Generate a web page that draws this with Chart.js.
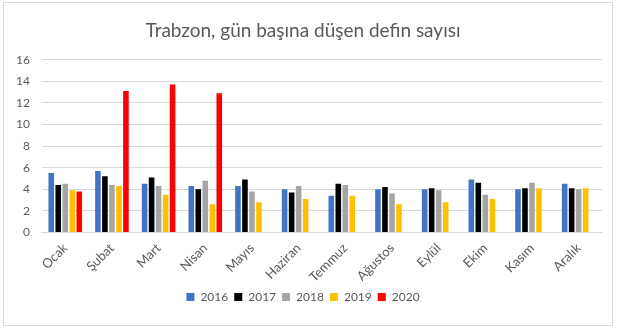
<!DOCTYPE html>
<html>
<head>
<meta charset="utf-8">
<script src="https://cdn.jsdelivr.net/npm/chart.js@4"></script>
<style>
  body { margin: 0; background: #fff; }
  #wrap { position: absolute; left: 3px; top: 2px; width: 610px; height: 324px; border: 1px solid #d9d9d9; box-sizing: border-box; }
</style>
</head>
<body>
<div id="wrap"><canvas id="chart"></canvas></div>
<script>
const months = ["Ocak", "Şubat", "Mart", "Nisan", "Mayıs", "Haziran", "Temmuz", "Ağustos", "Eylül", "Ekim", "Kasım", "Aralık"];
const years = ["2016", "2017", "2018", "2019", "2020"];
const colors = ["#4472c4", "#000000", "#a5a5a5", "#ffc000", "#ff0000"];
const v2016 = [5.5, 5.7, 4.5, 4.3, 4.3, 4.0, 3.4, 4.0, 4.0, 4.9, 4.0, 4.5];
const v2017 = [4.4, 5.2, 5.1, 4.0, 4.9, 3.7, 4.5, 4.2, 4.1, 4.6, 4.1, 4.1];
const v2018 = [4.5, 4.4, 4.3, 4.8, 3.8, 4.3, 4.4, 3.6, 3.9, 3.5, 4.6, 4.0];
const v2019 = [3.9, 4.3, 3.5, 2.6, 2.8, 3.1, 3.4, 2.6, 2.8, 3.1, 4.1, 4.1];
const v2020 = [3.8, 13.1, 13.7, 12.9, null, null, null, null, null, null, null, null];
const series = [v2016, v2017, v2018, v2019, v2020];
const yTicks = [0, 2, 4, 6, 8, 10, 12, 14, 16];

const txt = "#595959";
const font = "Lato, 'Open Sans', sans-serif";

const datasets = series.map((vals, i) => ({
    label: years[i],
    data: vals,
    backgroundColor: colors[i],
    borderWidth: 0,
    categoryPercentage: 0.75,
    barPercentage: 0.8
}));

new Chart(document.getElementById("chart").getContext("2d"), {
    type: "bar",
    data: { labels: months, datasets: datasets },
    options: {
        responsive: true,
        maintainAspectRatio: false,
        animation: false,
        layout: { padding: { left: 0, right: 10, top: 6, bottom: 12 } },
        plugins: {
            title: {
                display: true,
                text: "Trabzon, gün başına düşen defin sayısı",
                color: txt,
                font: { family: font, size: 19, weight: "normal" },
                padding: { top: 10, bottom: 18 }
            },
            legend: {
                position: "bottom",
                labels: {
                    color: txt,
                    boxWidth: 8,
                    boxHeight: 8,
                    padding: 6,
                    font: { family: font, size: 12 }
                }
            },
            tooltip: { enabled: false }
        },
        scales: {
            x: {
                grid: { display: false },
                border: { color: "#d9d9d9" },
                ticks: { color: txt, maxRotation: 45, minRotation: 45, padding: 0, font: { family: font, size: 13 } }
            },
            y: {
                min: 0,
                max: 16,
                afterBuildTicks: axis => { axis.ticks = yTicks.map(v => ({ value: v })); },
                grid: { color: "#d9d9d9", drawTicks: false },
                border: { display: false },
                ticks: { color: txt, padding: 12, font: { family: font, size: 12 } }
            }
        }
    }
});
</script>
</body>
</html>
